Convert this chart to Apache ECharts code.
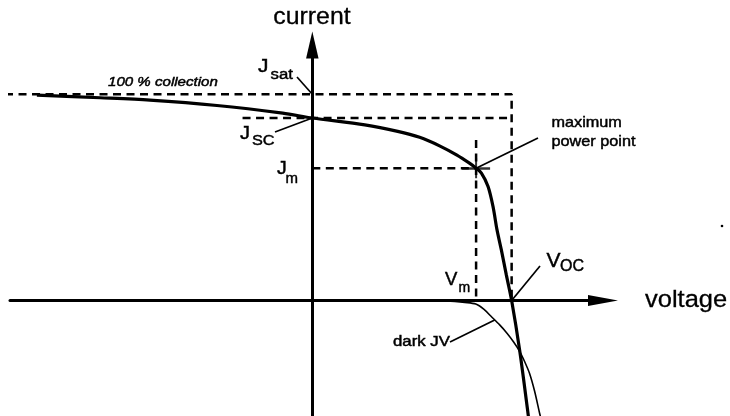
<!DOCTYPE html>
<html>
<head>
<meta charset="utf-8">
<style>
  html, body { margin: 0; padding: 0; background: #fff; }
  #chart { width: 730px; height: 416px; }
</style>
<script src="https://cdn.jsdelivr.net/npm/echarts@6/dist/echarts.min.js"></script>
</head>
<body>
<div id="chart"></div>
<script>
// Solar cell J-V characteristic: illuminated curve and dark curve.
// Voltage in V, current density in mA/cm^2 (photocurrent counted positive).

const lightV = [-0.829, -0.639, -0.489, -0.287, -0.089, 0.000, 0.158, 0.257, 0.323, 0.383,
                0.434, 0.473, 0.493, 0.509, 0.529, 0.544, 0.556, 0.569, 0.584, 0.600,
                0.624, 0.648, 0.651];
const lightJ = [22.50, 22.22, 21.96, 21.37, 20.53, 20.00, 19.25, 18.54, 17.88, 16.95,
                15.96, 15.05, 14.50, 13.96, 12.49, 10.29, 7.74, 5.55, 2.81, 0.00,
                -5.42, -11.99, -12.87];

const darkV = [0.000, 0.384, 0.429, 0.459, 0.492, 0.516, 0.540, 0.564, 0.586, 0.606,
               0.624, 0.639, 0.654, 0.669, 0.684, 0.687];
const darkJ = [0.00, -0.03, -0.10, -0.20, -0.39, -0.95, -1.80, -2.67, -3.58, -4.54,
               -5.56, -6.68, -7.99, -9.91, -12.32, -12.76];

// characteristic points
const Jsat = 22.6;   // saturation (100 % collection) current
const Jsc = 20.0;    // short-circuit current
const Voc = 0.600;   // open-circuit voltage
const Vm = 0.493;    // voltage at maximum power
const Jm = 14.50;    // current at maximum power

// extents of the guide lines
const satStartV = -0.925;
const jscStartV = -0.21;
const vmTopJ = 17.6;
const darkLabelV = 0.549;

const X_MIN = -0.91, X_MAX = 0.875;
const Y_MIN = -12.65, Y_MAX = 28;

const FONT = '"Liberation Sans", Arial, Helvetica, sans-serif';

function pairs(xs, ys) { return xs.map((x, i) => [x, ys[i]]); }
function interp(xs, ys, x) {
  for (let i = 1; i < xs.length; i++) {
    if (x <= xs[i]) {
      const t = (x - xs[i - 1]) / (xs[i] - xs[i - 1]);
      return ys[i - 1] + t * (ys[i] - ys[i - 1]);
    }
  }
  return ys[ys.length - 1];
}

const chart = echarts.init(document.getElementById('chart'), null, { renderer: 'canvas' });

const dashed = { color: '#000', width: 2.5, type: [8, 5.5] };
const guide = (data) => ({
  type: 'line', data, symbol: 'none', silent: true, clip: false,
  lineStyle: dashed, z: 2
});

const axisCommon = {
  type: 'value',
  axisTick: { show: false },
  axisLabel: { show: false },
  splitLine: { show: false }
};

chart.setOption({
  animation: false,
  backgroundColor: '#fff',
  grid: { left: 10, right: 127, top: 45, bottom: 0, containLabel: false },
  xAxis: Object.assign({}, axisCommon, {
    min: X_MIN, max: X_MAX,
    axisLine: { onZero: true, symbol: ['none', 'triangle'], symbolSize: [11, 30],
                lineStyle: { color: '#000', width: 3 } }
  }),
  yAxis: Object.assign({}, axisCommon, {
    min: Y_MIN, max: Y_MAX,
    axisLine: { onZero: true, symbol: ['none', 'triangle'], symbolSize: [12.5, 27],
                lineStyle: { color: '#000', width: 3 } }
  }),
  series: [
    guide([[satStartV, Jsat], [Voc, Jsat], [Voc, 0]]),
    guide([[jscStartV, Jsc], [Voc, Jsc]]),
    guide([[0, Jm], [Vm, Jm]]),
    guide([[Vm, vmTopJ], [Vm, 0]]),
    {
      name: 'dark JV', type: 'line', data: pairs(darkV, darkJ), symbol: 'none',
      smooth: 0.3, silent: true, lineStyle: { color: '#000', width: 1.6 }, z: 3
    },
    {
      name: 'light JV', type: 'line', data: pairs(lightV, lightJ), symbol: 'none',
      smooth: 0.3, silent: true, lineStyle: { color: '#000', width: 3.2 }, z: 4
    },
    {
      name: 'maximum power point', type: 'scatter', data: [[Vm, Jm]], silent: true,
      symbol: 'path://M0,9L13,9L13,0L15,0L15,9L28,9L28,11.5L15,11.5L15,20L13,20L13,11.5L0,11.5Z',
      symbolSize: [28, 20], itemStyle: { color: '#000' }, z: 5
    }
  ]
});

const px = (v, j) => chart.convertToPixel({ gridIndex: 0 }, [v, j]);

function label(text, x, baseline, size, opts) {
  opts = opts || {};
  return {
    type: 'text', x: x, y: baseline - 0.3465 * size,
    scaleX: opts.sx || 1, silent: true, z: 10,
    style: {
      text: text, fill: '#000', stroke: '#000', lineWidth: opts.lw == null ? 0.45 : opts.lw,
      font: (opts.italic ? 'italic ' : '') + size + 'px ' + FONT,
      align: opts.align || 'left', verticalAlign: 'middle'
    }
  };
}
function leader(from, to) {
  return {
    type: 'line', silent: true, z: 9,
    shape: { x1: from[0], y1: from[1], x2: to[0], y2: to[1] },
    style: { stroke: '#000', lineWidth: 1.7 }
  };
}

const pSat = px(0, Jsat), pSc = px(0, Jsc), pMpp = px(Vm, Jm), pOc = px(Voc, 0);
const pDark = px(darkLabelV, interp(darkV, darkJ, darkLabelV));

chart.setOption({
  graphic: [
    label('current', 312, 26, 23, { align: 'center', sx: 1.08, lw: 0.3 }),
    label('voltage', 645, 308.5, 24.5, { sx: 1.04, lw: 0.3 }),
    label('100 % collection', 108, 86.8, 13, { italic: true, sx: 1.16 }),

    label('J', 258, 73.5, 19, { sx: 1.1 }),
    label('sat', 270.5, 80, 14, { sx: 1.2 }),
    leader([297, 77], pSat),

    label('J', 240, 140, 19, { sx: 1.05 }),
    label('SC', 252, 146, 15.5, { sx: 1.05 }),
    leader([275, 132], pSc),

    label('J', 277, 175.5, 18.5, { sx: 1.05 }),
    label('m', 285.5, 184, 15),

    label('maximum', 551.5, 128.5, 14.5, { sx: 1.12 }),
    label('power point', 551.5, 147, 14.5, { sx: 1.12 }),
    leader([538, 138], pMpp),

    label('V', 445, 286, 18.5),
    label('m', 458.5, 292.5, 14),

    label('V', 546.5, 268.5, 21),
    label('OC', 560, 272, 16),
    leader([540, 266], pOc),

    label('dark JV', 393, 347, 14, { sx: 1.2 }),
    leader([450, 342], pDark),

    { type: 'circle', silent: true, shape: { cx: 722, cy: 226, r: 1.3 }, style: { fill: '#000' } }
  ]
});
</script>
</body>
</html>
